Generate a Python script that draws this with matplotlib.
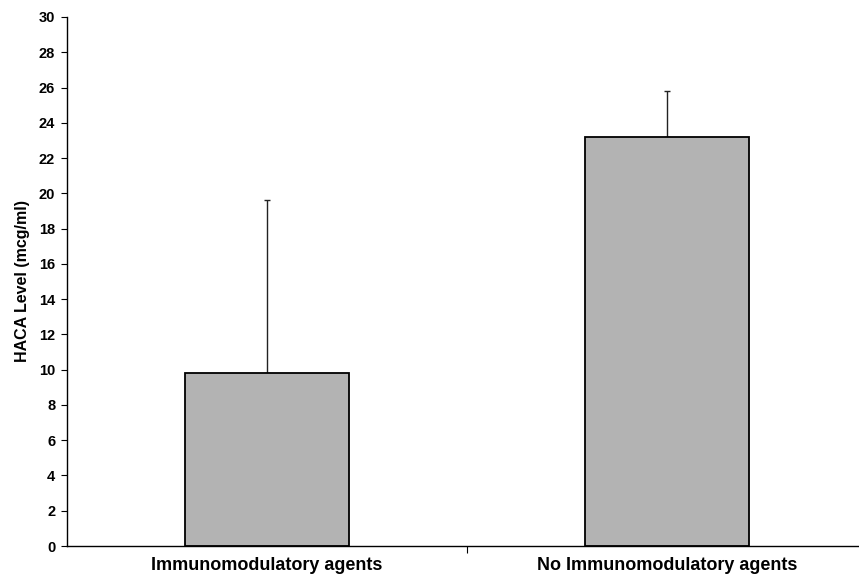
import matplotlib.pyplot as plt
import numpy as np

plt.rcParams['font.family'] = ['Liberation Sans', 'DejaVu Sans']

groups = ["Immunomodulatory agents", "No Immunomodulatory agents"]
haca_mean = [9.8, 23.2]
haca_err = [9.8, 2.6]
y_ticks = list(range(0, 31, 2))

fig = plt.figure(figsize=(8.59, 5.79), dpi=100)
ax = fig.add_axes([67/859, 33/579, 800/859, 529/579])

x = np.arange(len(groups))
ax.bar(x, haca_mean, width=0.41, color="#b3b3b3", edgecolor="black", linewidth=1.3, zorder=2)
# upper error bars only
ax.errorbar(x, haca_mean, yerr=[np.zeros(len(x)), haca_err], fmt="none",
            ecolor="#222222", elinewidth=1.0, capsize=2.5, capthick=1.0, zorder=1)

ax.set_xlim(-0.5, 1.5)
ax.set_ylim(0, 30)
ax.set_yticks(y_ticks)
ax.set_yticklabels([str(t) for t in y_ticks], fontsize=10.5, fontweight="bold")
ax.tick_params(axis="y", length=4.5, width=0.8, pad=4)

ax.set_xticks(x)
ax.set_xticklabels(groups, fontsize=13, fontweight="bold")
ax.tick_params(axis="x", which="major", length=0, pad=8)
ax.set_xticks([0.5], minor=True)
ax.tick_params(axis="x", which="minor", length=5, width=0.8)

ax.set_ylabel("HACA Level (mcg/ml)", fontsize=11.5, fontweight="bold", labelpad=6)

for s in ["top", "right"]:
    ax.spines[s].set_visible(False)
ax.spines["left"].set_linewidth(1.0)
ax.spines["bottom"].set_linewidth(1.0)

fig.savefig("out.png", dpi=100)
